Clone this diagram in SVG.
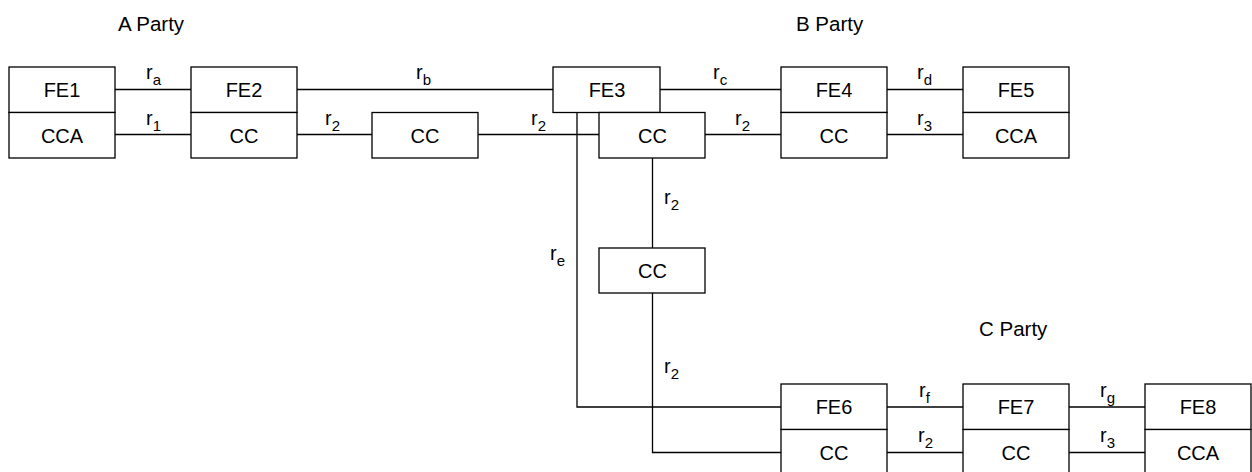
<svg xmlns="http://www.w3.org/2000/svg" width="1252" height="472" viewBox="0 0 1252 472">
<style>
  .box { fill: #fff; stroke: #000; stroke-width: 1.3; }
  .ln { fill: none; stroke: #000; stroke-width: 1.3; }
  .t { font-family: "Liberation Sans", Arial, sans-serif; font-size: 20px; fill: #000; text-anchor: middle; }
  .lbl { font-family: "Liberation Sans", Arial, sans-serif; font-size: 20px; fill: #000; }
  .sub { font-size: 15px; }
  .party { font-family: "Liberation Sans", Arial, sans-serif; font-size: 20.5px; fill: #000; }
</style>
<rect width="1252" height="472" fill="#fff"/>

<g id="connectors">
  <path class="ln" d="M115 89.5H191"/>
  <path class="ln" d="M115 134.5H191"/>
  <path class="ln" d="M297 89.5H553"/>
  <path class="ln" d="M297 134.5H372"/>
  <path class="ln" d="M478 134.5H599"/>
  <path class="ln" d="M660 89.5H781"/>
  <path class="ln" d="M705 134.5H781"/>
  <path class="ln" d="M887 89.5H963"/>
  <path class="ln" d="M887 134.5H963"/>
  <path class="ln" d="M577 112.5V407H781"/>
  <path class="ln" d="M652.5 158V248"/>
  <path class="ln" d="M652.5 293V452.5H781"/>
  <path class="ln" d="M887 407H963"/>
  <path class="ln" d="M887 452.5H963"/>
  <path class="ln" d="M1069 407H1145"/>
  <path class="ln" d="M1069 452.5H1145"/>
</g>

<g id="labels">
  <text class="lbl" x="146" y="79">r<tspan class="sub" dy="6">a</tspan></text>
  <text class="lbl" x="146" y="125">r<tspan class="sub" dy="6">1</tspan></text>
  <text class="lbl" x="416" y="79">r<tspan class="sub" dy="6">b</tspan></text>
  <text class="lbl" x="325" y="125">r<tspan class="sub" dy="6">2</tspan></text>
  <text class="lbl" x="531" y="125">r<tspan class="sub" dy="6">2</tspan></text>
  <text class="lbl" x="713" y="79">r<tspan class="sub" dy="6">c</tspan></text>
  <text class="lbl" x="735" y="125">r<tspan class="sub" dy="6">2</tspan></text>
  <text class="lbl" x="917" y="79">r<tspan class="sub" dy="6">d</tspan></text>
  <text class="lbl" x="917" y="125">r<tspan class="sub" dy="6">3</tspan></text>
  <text class="lbl" x="664" y="204">r<tspan class="sub" dy="6">2</tspan></text>
  <text class="lbl" x="550" y="260">r<tspan class="sub" dy="6">e</tspan></text>
  <text class="lbl" x="664" y="373">r<tspan class="sub" dy="6">2</tspan></text>
  <text class="lbl" x="919" y="396.5">r<tspan class="sub" dy="6">f</tspan></text>
  <text class="lbl" x="918" y="442">r<tspan class="sub" dy="6">2</tspan></text>
  <text class="lbl" x="1100" y="396.5">r<tspan class="sub" dy="6">g</tspan></text>
  <text class="lbl" x="1100" y="442">r<tspan class="sub" dy="6">3</tspan></text>
</g>

<g id="parties">
  <text class="party" x="118" y="31">A Party</text>
  <text class="party" x="796" y="30.5">B Party</text>
  <text class="party" x="979" y="336">C Party</text>
</g>

<g id="fe1">
  <rect class="box" x="9" y="67" width="106" height="45.5"/>
  <text class="t" x="62" y="97">FE1</text>
</g>
<g id="cca1">
  <rect class="box" x="9" y="112.5" width="106" height="45.5"/>
  <text class="t" x="62" y="142.5">CCA</text>
</g>
<g id="fe2">
  <rect class="box" x="191" y="67" width="106" height="45.5"/>
  <text class="t" x="244" y="97">FE2</text>
</g>
<g id="cc2">
  <rect class="box" x="191" y="112.5" width="106" height="45.5"/>
  <text class="t" x="244" y="142.5">CC</text>
</g>
<g id="cc-mid">
  <rect class="box" x="372" y="112.5" width="106" height="45.5"/>
  <text class="t" x="425" y="142.5">CC</text>
</g>
<g id="fe3">
  <rect class="box" x="553" y="67" width="107" height="45.5"/>
  <text class="t" x="607" y="97">FE3</text>
</g>
<g id="cc3">
  <rect class="box" x="599" y="112.5" width="106" height="45.5"/>
  <text class="t" x="652.5" y="142.5">CC</text>
</g>
<g id="fe4">
  <rect class="box" x="781" y="67" width="106" height="45.5"/>
  <text class="t" x="834" y="97">FE4</text>
</g>
<g id="cc4">
  <rect class="box" x="781" y="112.5" width="106" height="45.5"/>
  <text class="t" x="834" y="142.5">CC</text>
</g>
<g id="fe5">
  <rect class="box" x="963" y="67" width="106" height="45.5"/>
  <text class="t" x="1016" y="97">FE5</text>
</g>
<g id="cca5">
  <rect class="box" x="963" y="112.5" width="106" height="45.5"/>
  <text class="t" x="1016" y="142.5">CCA</text>
</g>
<g id="cc-vert">
  <rect class="box" x="599" y="248" width="106" height="45"/>
  <text class="t" x="652.5" y="278">CC</text>
</g>
<g id="fe6">
  <rect class="box" x="781" y="384" width="106" height="45.5"/>
  <text class="t" x="834" y="414">FE6</text>
</g>
<g id="cc6">
  <rect class="box" x="781" y="429.5" width="106" height="45.5"/>
  <text class="t" x="834" y="459.5">CC</text>
</g>
<g id="fe7">
  <rect class="box" x="963" y="384" width="106" height="45.5"/>
  <text class="t" x="1016" y="414">FE7</text>
</g>
<g id="cc7">
  <rect class="box" x="963" y="429.5" width="106" height="45.5"/>
  <text class="t" x="1016" y="459.5">CC</text>
</g>
<g id="fe8">
  <rect class="box" x="1145" y="384" width="106" height="45.5"/>
  <text class="t" x="1198" y="414">FE8</text>
</g>
<g id="cca8">
  <rect class="box" x="1145" y="429.5" width="106" height="45.5"/>
  <text class="t" x="1198" y="459.5">CCA</text>
</g>
</svg>
